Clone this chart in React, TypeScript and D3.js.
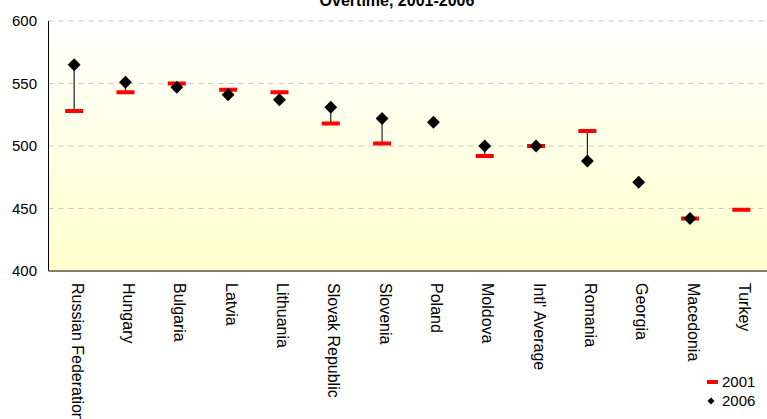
import React, { useEffect, useRef } from 'react';
import * as d3 from 'd3';

const countries = [
  'Russian Federation', 'Hungary', 'Bulgaria', 'Latvia', 'Lithuania', 'Slovak Republic',
  'Slovenia', 'Poland', 'Moldova', "Intl' Average", 'Romania', 'Georgia', 'Macedonia', 'Turkey',
];
const scores2001: (number | null)[] = [528, 543, 550, 545, 543, 518, 502, null, 492, 500, 512, null, 442, 449];
const scores2006: (number | null)[] = [565, 551, 547, 541, 537, 531, 522, 519, 500, 500, 488, 471, 442, null];
const yTicks = [400, 450, 500, 550, 600];
const title = 'Overtime, 2001-2006';

const W = 767;
const H = 419;

export default function App() {
  const svgRef = useRef<SVGSVGElement>(null);

  useEffect(() => {
    if (!svgRef.current) return;
    const svg = d3.select(svgRef.current);
    svg.selectAll('*').remove();

    const left = 48.5, right = 767, top = 21, bottom = 271;
    const font = 'Liberation Sans, Arial, sans-serif';

    const x = d3.scaleBand<string>().domain(countries).range([left, right]);
    const y = d3.scaleLinear().domain([400, 600]).range([bottom, top]);

    // plot background gradient
    const grad = svg.append('defs').append('linearGradient')
      .attr('id', 'bg').attr('x1', 0).attr('y1', 0).attr('x2', 0).attr('y2', 1);
    grad.append('stop').attr('offset', '0%').attr('stop-color', '#ffffff');
    grad.append('stop').attr('offset', '100%').attr('stop-color', '#ffffcc');
    svg.append('rect')
      .attr('x', left).attr('y', top).attr('width', right - left).attr('height', bottom - top)
      .attr('fill', 'url(#bg)');

    // gridlines
    svg.append('g').selectAll('line')
      .data(yTicks.filter(t => t > 400))
      .join('line')
      .attr('x1', left).attr('x2', right)
      .attr('y1', d => y(d)).attr('y2', d => y(d))
      .attr('stroke', '#c8c8c8')
      .attr('stroke-dasharray', '5,5');

    // y axis
    svg.append('line')
      .attr('x1', left).attr('x2', left).attr('y1', top).attr('y2', bottom)
      .attr('stroke', '#000');
    svg.append('g').selectAll('text')
      .data(yTicks)
      .join('text')
      .attr('x', 37).attr('y', d => y(d)).attr('dy', '0.35em')
      .attr('text-anchor', 'end')
      .attr('font-family', font).attr('font-size', 15)
      .text(d => d);

    // x axis line
    svg.append('line')
      .attr('x1', left).attr('x2', right).attr('y1', bottom).attr('y2', bottom)
      .attr('stroke', '#7f7f70').attr('stroke-width', 2);

    // x labels
    svg.append('g').selectAll('text')
      .data(countries)
      .join('text')
      .attr('transform', d => `translate(${x(d)! + x.bandwidth() / 2 - 2.5},283) rotate(90)`)
      .attr('font-family', font).attr('font-size', 16)
      .text(d => d);

    // high-low lines
    const cx = (i: number) => x(countries[i])! + x.bandwidth() / 2;
    const pairs = countries.map((c, i) => i)
      .filter(i => scores2001[i] != null && scores2006[i] != null);
    svg.append('g').selectAll('line')
      .data(pairs)
      .join('line')
      .attr('x1', i => cx(i)).attr('x2', i => cx(i))
      .attr('y1', i => y(scores2001[i]!)).attr('y2', i => y(scores2006[i]!))
      .attr('stroke', '#222').attr('stroke-width', 1.2);

    // 2001 dashes
    svg.append('g').selectAll('rect')
      .data(countries.map((c, i) => i).filter(i => scores2001[i] != null))
      .join('rect')
      .attr('x', i => cx(i) - 9)
      .attr('y', i => y(scores2001[i]!) - 2)
      .attr('width', 18).attr('height', 4).attr('fill', '#ff0000');

    // 2006 diamonds
    const diamond = d3.symbol().type(d3.symbolDiamond2).size(105);
    svg.append('g').selectAll('path')
      .data(countries.map((c, i) => i).filter(i => scores2006[i] != null))
      .join('path')
      .attr('d', diamond)
      .attr('transform', i => `translate(${cx(i)},${y(scores2006[i]!)})`)
      .attr('fill', '#000');

    // title
    svg.append('text')
      .attr('x', 397).attr('y', 6)
      .attr('text-anchor', 'middle')
      .attr('font-family', font).attr('font-size', 16).attr('font-weight', 'bold')
      .text(title);

    // legend
    const lg = svg.append('g').attr('font-family', font).attr('font-size', 15);
    lg.append('rect').attr('x', 707).attr('y', 380).attr('width', 11).attr('height', 4).attr('fill', '#ff0000');
    lg.append('text').attr('x', 722).attr('y', 382).attr('dy', '0.35em').text('2001');
    lg.append('path')
      .attr('d', d3.symbol().type(d3.symbolDiamond2).size(32)())
      .attr('transform', 'translate(711,401)')
      .attr('fill', '#000');
    lg.append('text').attr('x', 722).attr('y', 401).attr('dy', '0.35em').text('2006');
  }, []);

  return (
    <svg
      ref={svgRef}
      width={W}
      height={H}
      style={{ position: 'absolute', left: 0, top: 0, background: '#fff' }}
    />
  );
}
